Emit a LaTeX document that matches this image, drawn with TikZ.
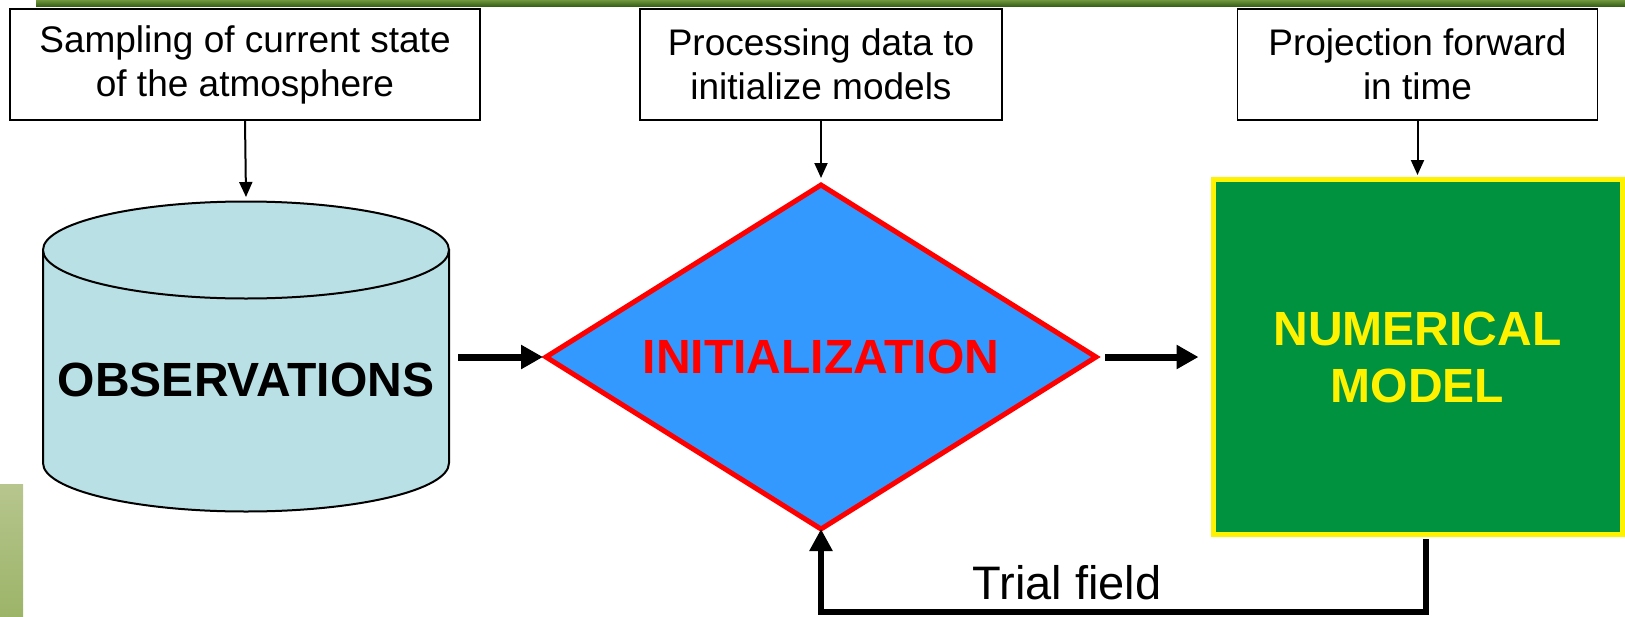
\documentclass[tikz,border=0pt]{standalone}
\usepackage{fontspec}
\setmainfont{Liberation Sans}
\usetikzlibrary{arrows.meta,shapes.geometric}

\definecolor{cylfill}{RGB}{185,224,228}
\definecolor{diafill}{RGB}{51,153,255}
\definecolor{modelgreen}{RGB}{0,146,63}
\definecolor{bandtop}{RGB}{112,150,62}
\definecolor{bandbot}{RGB}{58,98,22}
\definecolor{bartop}{RGB}{183,198,142}
\definecolor{barbot}{RGB}{156,180,104}

\tikzset{
  notebox/.style={draw=black, line width=1.5pt, fill=white, inner sep=0pt,
    minimum height=111pt, align=center, font=\fontsize{37}{44}\selectfont},
  thinarrow/.style={line width=2pt, -{Triangle[length=15pt,width=13pt]}},
  flowarrow/.style={line width=7pt, -{Triangle[length=22pt,width=23pt]}},
  bigword/.style={font=\fontsize{48}{57}\selectfont\bfseries, align=center},
}

\begin{document}
\begin{tikzpicture}[x=1pt,y=-1pt]
\useasboundingbox (0,0) rectangle (1625,616);

% decorative bands
\shade[top color=bandtop, bottom color=bandbot] (36,0) rectangle (1625,6);
\shade[top color=bartop, bottom color=barbot] (0,484) rectangle (23,616);

% explanatory boxes
\node[notebox, minimum width=470pt] (samp) at (245,64.5) {Sampling of current state\\of the atmosphere};
\node[notebox, minimum width=362pt] (proc) at (821,64.5) {Processing data to\\initialize models};
\node[notebox, minimum width=360pt] (proj) at (1417.5,64.5) {Projection forward\\in time};

% observations store (cylinder)
\draw[fill=cylfill, line width=2pt] (43,250) -- (43,463)
  arc[start angle=180, end angle=360, x radius=203pt, y radius=48.5pt] -- (449,250) -- cycle;
\draw[fill=cylfill, line width=2pt] (246,250) ellipse[x radius=203pt, y radius=48.5pt];
\node[bigword] (obs) at (246,380) {OBSERVATIONS};
\coordinate (obstop) at (246,197);
\coordinate (obsout) at (458,357);

% initialization decision
\node[diamond, draw=red, fill=diafill, line width=5pt, minimum width=550pt,
  minimum height=344pt, inner sep=0pt, outer sep=0pt, aspect=1.6,
  bigword, text=red] (init) at (821,357) {INITIALIZATION};

% numerical model
\node[draw=yellow, fill=modelgreen, line width=5pt, minimum width=409pt,
  minimum height=355pt, inner sep=0pt, bigword, text=yellow] (model) at (1417.5,357) {NUMERICAL\\MODEL};

% connectors
\draw[thinarrow] (samp.south) -- (obstop);
\draw[thinarrow, shorten >=7pt] (proc.south) -- (init.north);
\draw[thinarrow, shorten >=2pt] (proj.south) -- (model.north);

\draw[flowarrow, shorten >=3pt] (obsout) -- (init.west);
\draw[flowarrow, shorten <=9pt, shorten >=12pt] (init.east) -- (model.west);

\coordinate (loopstart) at (1425.5,539);
\coordinate (loopcorner) at (1425.5,612);
\draw[line width=6pt, -{Triangle[length=22pt,width=22pt]}]
  (loopstart) -- (loopcorner) -| (init.south);
\node[font=\fontsize{47}{56}\selectfont] (trial) at (1067,583) {Trial field};
\end{tikzpicture}
\end{document}
